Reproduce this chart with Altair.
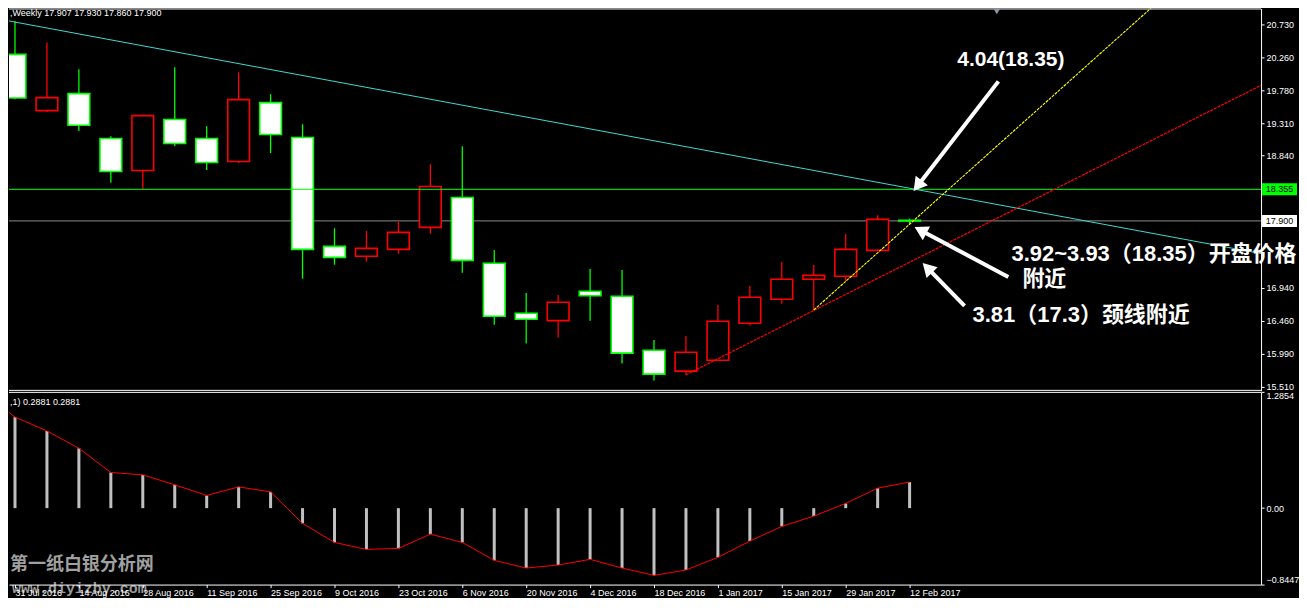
import math
import json
import altair as alt
import pandas as pd

# ---------------- data ----------------
week_labels = ["31 Jul 2016", "7 Aug 2016", "14 Aug 2016", "21 Aug 2016", "28 Aug 2016",
               "4 Sep 2016", "11 Sep 2016", "18 Sep 2016", "25 Sep 2016", "2 Oct 2016",
               "9 Oct 2016", "16 Oct 2016", "23 Oct 2016", "30 Oct 2016", "6 Nov 2016",
               "13 Nov 2016", "20 Nov 2016", "27 Nov 2016", "4 Dec 2016", "11 Dec 2016",
               "18 Dec 2016", "25 Dec 2016", "1 Jan 2017", "8 Jan 2017", "15 Jan 2017",
               "22 Jan 2017", "29 Jan 2017", "5 Feb 2017", "12 Feb 2017"]

opens = [20.299, 19.489, 19.733, 19.086, 18.626, 19.360, 19.086, 18.756, 19.604, 19.101,
         17.533, 17.390, 17.490, 17.807, 18.238, 17.289, 16.570, 16.463, 16.886, 16.814,
         16.038, 15.736, 15.894, 16.426, 16.771, 17.059, 17.102, 17.476, 17.907]
highs = [20.777, 20.471, 20.083, 19.119, 19.417, 20.112, 19.263, 20.040, 19.723, 19.292,
         17.796, 17.753, 17.887, 18.717, 18.976, 17.480, 16.862, 16.833, 17.207, 17.192,
         16.186, 16.243, 16.689, 16.962, 17.308, 17.264, 17.710, 17.983, 17.930]
lows = [19.652, 19.469, 19.196, 18.448, 18.357, 18.980, 18.635, 18.735, 18.879, 17.067,
        17.269, 17.312, 17.427, 17.714, 17.154, 16.406, 16.133, 16.219, 16.463, 15.845,
        15.601, 15.683, 15.884, 16.392, 16.708, 16.617, 17.034, 17.476, 17.860]
closes = [19.670, 19.676, 19.278, 18.612, 19.417, 19.014, 18.741, 19.647, 19.144, 17.490,
          17.375, 17.505, 17.735, 18.396, 17.332, 16.527, 16.484, 16.728, 16.823, 15.995,
          15.693, 16.009, 16.455, 16.800, 17.059, 17.116, 17.490, 17.922, 17.900]

osc_values = [1.007, 0.853, 0.662, 0.394, 0.368, 0.258, 0.140, 0.235, 0.180, -0.169,
              -0.379, -0.456, -0.445, -0.287, -0.379, -0.577, -0.662, -0.629, -0.566, -0.662,
              -0.743, -0.684, -0.544, -0.364, -0.202, -0.088, 0.052, 0.221, 0.2881]
osc_before = 1.2854  # value of the bar just left of the window

price_ticks = [20.73, 20.26, 19.78, 19.31, 18.84, 16.94, 16.46, 15.99, 15.51]
osc_ticks = [1.2854, 0.0, -0.8447]

level_green = 18.355
level_bid = 17.900

cyan_idx, cyan_price = [-0.1875, 39.0], [20.780, 17.430]
red_idx, red_price = [21.0, 39.0], [15.683, 19.853]
yellow_idx, yellow_price = [25.0, 36.5], [16.617, 21.354]

header_top = ",Weekly  17.907 17.930 17.860 17.900"
header_bottom = ",1) 0.2881 0.2881"
watermark_cn = "第一纸白银分析网"
watermark_url = "www.diyizby.com"

note_center = ["4.04(18.35)"]
note_center_pos = [(31.17, 20.212)]
note_left = ["3.92~3.93（18.35）开盘价格", "附近", "3.81（17.3）颈线附近"]
note_left_pos = [(31.19, 17.423), (31.53, 17.063), (29.97, 16.545)]

arrow_from = [(30.78, 19.910), (31.09, 17.092), (29.72, 16.675)]
arrow_to = [(28.125, 18.329), (28.156, 17.811), (28.41, 17.293)]

# ---------------- layout ----------------
X_MIN, X_MAX = -0.1875, 39.0
PLOT_W = 1254
TOP_H = 383
P_MIN, P_MAX = 15.452, 20.960
BOT_H = 193
O_MIN, O_MAX = -0.8447, 1.2854
PX_X = PLOT_W / (X_MAX - X_MIN)
PX_Y = TOP_H / (P_MAX - P_MIN)
PX_O = BOT_H / (O_MAX - O_MIN)

FONT = "Liberation Sans"
CJK = "Liberation Sans, Noto Sans CJK SC"

xscale = alt.Scale(domain=[X_MIN, X_MAX], nice=False, zero=False)
pscale = alt.Scale(domain=[P_MIN, P_MAX], nice=False, zero=False)
oscale = alt.Scale(domain=[O_MIN, O_MAX], nice=False, zero=False)

top_axis = alt.Axis(orient="right", values=price_ticks, format=".3f", title=None,
                    labelColor="white", labelFont=FONT, labelFontSize=9,
                    tickColor="white", tickSize=3, domainColor="white", grid=False,
                    labelPadding=2, labelFlush=False, labelOverlap=False)
osc_axis = alt.Axis(orient="right", values=osc_ticks, title=None,
                    labelExpr="datum.value == 0 ? '0.00' : format(datum.value, '.4f')",
                    labelColor="white", labelFont=FONT, labelFontSize=9,
                    tickColor="white", tickSize=3, domainColor="white", grid=False,
                    labelPadding=2, labelFlush=True, labelOverlap=False)
x_axis = alt.Axis(orient="bottom", values=list(range(0, 29, 2)), title=None,
                  labelExpr=json.dumps(week_labels) + "[datum.value]",
                  labelAlign="left", labelColor="white", labelFont=FONT, labelFontSize=9,
                  tickColor="white", tickSize=3, domainColor="white", grid=False,
                  labelPadding=1, labelFlush=False, labelOverlap=False, zindex=1)


def XT(field):
    return alt.X(f"{field}:Q", scale=xscale, axis=None)


def YT(field):
    return alt.Y(f"{field}:Q", scale=pscale, axis=top_axis)


def XB(field):
    return alt.X(f"{field}:Q", scale=xscale, axis=x_axis)


def YB(field):
    return alt.Y(f"{field}:Q", scale=oscale, axis=osc_axis)


# ---------------- top panel ----------------
n = len(opens)
candles = pd.DataFrame({"idx": list(range(n)), "open": opens, "high": highs,
                        "low": lows, "close": closes})
candles["dir"] = ["up" if c >= o else "down" for o, c in zip(opens, closes)]
candles["body_lo"] = [min(o, c) for o, c in zip(opens, closes)]
candles["body_hi"] = [max(o, c) for o, c in zip(opens, closes)]

stroke_scale = alt.Scale(domain=["up", "down"], range=["#FF0000", "#00FF00"])
fill_scale = alt.Scale(domain=["up", "down"], range=["#000000", "#FFFFFF"])

bid_rule = alt.Chart(pd.DataFrame({"price": [level_bid]})).mark_rule(
    color="#8C8C8C", strokeWidth=1).encode(y=YT("price"))

wicks = alt.Chart(candles).mark_rule(strokeWidth=1.3, clip=True).encode(
    x=XT("idx"), y=YT("low"), y2="high",
    color=alt.Color("dir:N", scale=stroke_scale, legend=None))

bodies = alt.Chart(candles).transform_calculate(
    x0="datum.idx - 0.34", x1="datum.idx + 0.34"
).mark_rect(strokeWidth=1.6, clip=True).encode(
    x=XT("x0"), x2="x1", y=YT("body_lo"), y2="body_hi",
    fill=alt.Fill("dir:N", scale=fill_scale, legend=None),
    stroke=alt.Stroke("dir:N", scale=stroke_scale, legend=None))

green_rule = alt.Chart(pd.DataFrame({"price": [level_green]})).mark_rule(
    color="#00FF00", strokeWidth=1).encode(y=YT("price"))

borders_top = alt.Chart(pd.DataFrame({"price": [P_MAX - 0.5 / PX_Y, P_MIN + 0.5 / PX_Y]})).mark_rule(
    color="white", strokeWidth=1).encode(y=YT("price"))

cyan = alt.Chart(pd.DataFrame({"idx": cyan_idx, "price": cyan_price})).mark_line(
    color="#40D8D0", strokeWidth=1, clip=True).encode(x=XT("idx"), y=YT("price"))
redl = alt.Chart(pd.DataFrame({"idx": red_idx, "price": red_price})).mark_line(
    color="#FF0000", strokeWidth=1.2, strokeDash=[3, 1], clip=True).encode(x=XT("idx"), y=YT("price"))
yell = alt.Chart(pd.DataFrame({"idx": yellow_idx, "price": yellow_price})).mark_line(
    color="#FFFF00", strokeWidth=1.1, strokeDash=[3, 1], clip=True).encode(x=XT("idx"), y=YT("price"))

# arrows
shaft_rows, head_rows = [], []
HEAD_SIZE = 240
r = math.sqrt(HEAD_SIZE) / 2
h = math.sqrt(3) * r / 2
for k, ((x0, y0), (x1, y1)) in enumerate(zip(arrow_from, arrow_to)):
    dx = (x1 - x0) * PX_X
    dy = -(y1 - y0) * PX_Y
    L = math.hypot(dx, dy)
    ux, uy = dx / L, dy / L
    cx = x1 - h * ux / PX_X
    cy = y1 + h * uy / PX_Y
    ang = math.degrees(math.atan2(ux, -uy)) % 360
    shaft_rows.append({"id": k, "o": 0, "idx": x0, "price": y0})
    shaft_rows.append({"id": k, "o": 1, "idx": cx, "price": cy})
    head_rows.append({"idx": cx, "price": cy, "angle": ang})

shafts = alt.Chart(pd.DataFrame(shaft_rows)).mark_line(
    color="white", strokeWidth=4, strokeCap="butt").encode(
    x=XT("idx"), y=YT("price"), detail="id:N", order="o:Q")
heads = alt.Chart(pd.DataFrame(head_rows)).mark_point(
    shape="triangle-up", filled=True, color="white", opacity=1, size=HEAD_SIZE).encode(
    x=XT("idx"), y=YT("price"), angle=alt.Angle("angle:Q", scale=None))

notes_c = alt.Chart(pd.DataFrame({"label": note_center,
                                  "idx": [p[0] for p in note_center_pos],
                                  "price": [p[1] for p in note_center_pos]})).mark_text(
    font=CJK, fontSize=21, fontWeight="bold", color="white", align="center",
    baseline="middle").encode(x=XT("idx"), y=YT("price"), text="label:N")
notes_l = alt.Chart(pd.DataFrame({"label": note_left,
                                  "idx": [p[0] for p in note_left_pos],
                                  "price": [p[1] for p in note_left_pos]})).mark_text(
    font=CJK, fontSize=22, fontWeight="bold", color="white", align="left",
    baseline="middle").encode(x=XT("idx"), y=YT("price"), text="label:N")

# price boxes on the right axis
box_df = pd.DataFrame({
    "label": [f"{level_green:.3f}", f"{level_bid:.3f}"],
    "price": [level_green, level_bid],
    "bg": ["#00FF00", "#FFFFFF"],
})
box_df["y0"] = box_df["price"] - 6 / PX_Y
box_df["y1"] = box_df["price"] + 6 / PX_Y
box_df["x0"] = X_MAX + 1 / PX_X
box_df["x1"] = X_MAX + 36 / PX_X
box_df["xc"] = X_MAX + 18.5 / PX_X
boxes = alt.Chart(box_df).mark_rect().encode(
    x=XT("x0"), x2="x1", y=YT("y0"), y2="y1", fill=alt.Fill("bg:N", scale=None))
box_text = alt.Chart(box_df).mark_text(color="black", font=FONT, fontSize=9,
                                       align="center", baseline="middle").encode(
    x=XT("xc"), y=YT("price"), text="label:N")

head_top = alt.Chart(pd.DataFrame({"label": [header_top], "idx": [X_MIN + 1 / PX_X],
                                   "price": [P_MAX - 5 / PX_Y]})).mark_text(
    color="white", font=FONT, fontSize=9, align="left", baseline="middle").encode(
    x=XT("idx"), y=YT("price"), text="label:N")

shift_mark = alt.Chart(pd.DataFrame({"idx": [30.73], "price": [P_MAX - 3 / PX_Y]})).mark_point(
    shape="triangle-down", filled=True, color="#8A9AAA", opacity=1, size=45, clip=True).encode(
    x=XT("idx"), y=YT("price"))

top = alt.layer(bid_rule, wicks, bodies, green_rule, cyan, redl, yell, borders_top,
                shafts, heads, notes_c, notes_l, boxes, box_text, head_top, shift_mark
                ).properties(width=PLOT_W, height=TOP_H)

# ---------------- bottom panel ----------------
osc_df = pd.DataFrame({"idx": list(range(n)), "osc": osc_values, "zero": [0.0] * n})
line_df = pd.DataFrame({"idx": [-1] + list(range(n)), "osc": [osc_before] + osc_values})

bars = alt.Chart(osc_df).mark_rule(color="#C0C0C0", strokeWidth=3).encode(
    x=XB("idx"), y=YB("osc"), y2="zero")
sig = alt.Chart(line_df).mark_line(color="#FF0000", strokeWidth=1, clip=True).encode(
    x=XB("idx"), y=YB("osc"))
border_b = alt.Chart(pd.DataFrame({"osc": [O_MAX - 0.5 / PX_O]})).mark_rule(
    color="white", strokeWidth=1).encode(y=YB("osc"))
head_bot = alt.Chart(pd.DataFrame({"label": [header_bottom], "idx": [X_MIN + 1 / PX_X],
                                   "osc": [O_MAX - 10 / PX_O]})).mark_text(
    color="white", font=FONT, fontSize=9, align="left", baseline="middle").encode(
    x=XB("idx"), y=YB("osc"), text="label:N")
wm1 = alt.Chart(pd.DataFrame({"label": [watermark_cn], "idx": [X_MIN + 1 / PX_X],
                              "osc": [O_MIN + 20 / PX_O]})).mark_text(
    color="#A0A0A0", font="Noto Sans CJK SC", fontSize=18, fontWeight="bold",
    align="left", baseline="middle").encode(x=XB("idx"), y=YB("osc"), text="label:N")
wm2 = alt.Chart(pd.DataFrame({"label": [watermark_url], "idx": [X_MIN + 3 / PX_X],
                              "osc": [O_MIN - 3 / PX_O]})).mark_text(
    color="#9A9A9A", font="Liberation Mono", fontSize=15, fontWeight="bold",
    align="left", baseline="middle").encode(x=XB("idx"), y=YB("osc"), text="label:N")

bottom = alt.layer(wm1, wm2, bars, sig, border_b, head_bot).properties(
    width=PLOT_W, height=BOT_H)

chart = alt.vconcat(top, bottom, spacing=1, bounds="flush").resolve_scale(
    x="independent", y="independent").properties(padding=0).configure(
    background="black").configure_view(strokeWidth=0)

chart.save("out.html", embed_options={"renderer": "svg", "actions": False})
